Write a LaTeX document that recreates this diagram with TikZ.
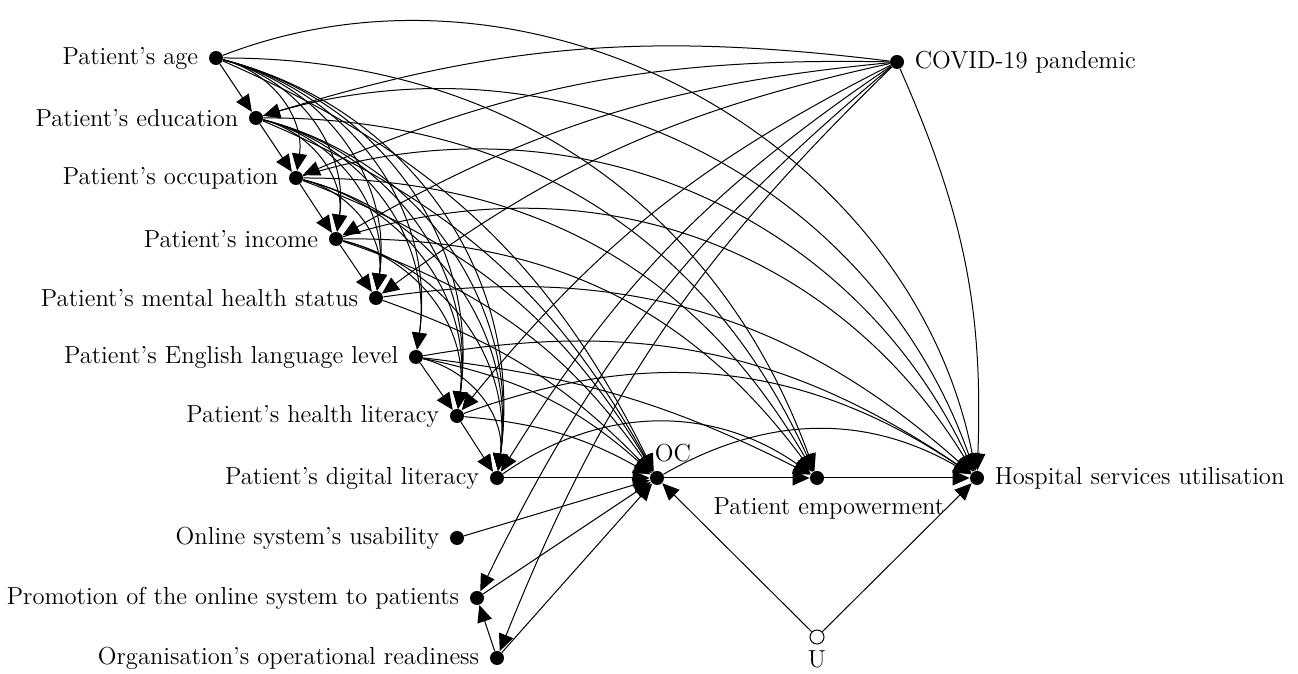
\documentclass[tikz,border=0pt]{standalone}
\usetikzlibrary{arrows.meta}
\begin{document}
\begin{tikzpicture}[x=0.5pt,y=0.5pt,
  dot/.style={circle,fill=black,inner sep=0pt,minimum size=7pt},
  hollow/.style={circle,draw=black,fill=white,line width=0.5pt,inner sep=0pt,minimum size=7pt},
  arr/.style={-{Triangle[length=8.5pt,width=7.5pt]},line width=0.5pt},
  lbl/.style={inner sep=0pt,font=\fontsize{12.3}{14}\selectfont},
  every label/.style={lbl},
  label distance=5pt]
\useasboundingbox (0,0) rectangle (1298,674);
% nodes
\node[dot,label={[name=ageL]left:Patient's age}] (age) at (216,616) {};
\node[dot,label={[name=eduL]left:Patient's education}] (edu) at (256,556) {};
\node[dot,label={[name=occL]left:Patient's occupation}] (occ) at (296,496) {};
\node[dot,label={[name=incL]left:Patient's income}] (inc) at (336,435) {};
\node[dot,label={[name=menL]left:Patient's mental health status}] (men) at (376,376) {};
\node[dot,label={[name=engL]left:Patient's English language level}] (eng) at (416,317) {};
\node[dot,label={[name=hlL]left:Patient's health literacy}] (hl) at (457,258) {};
\node[dot,label={[name=dlL]left:Patient's digital literacy}] (dl) at (497,196) {};
\node[dot,label={[name=usL]left:Online system's usability}] (us) at (457,136) {};
\node[dot,label={[name=prL]left:Promotion of the online system to patients}] (pr) at (477,76) {};
\node[dot,label={[name=rdL]left:Organisation's operational readiness}] (rd) at (497,16) {};
\node[dot,label={[name=ocL,label distance=4pt,xshift=8pt]above:OC}] (oc) at (657,196) {};
\node[dot,label={[name=emL,label distance=6pt,xshift=6pt]below:Patient empowerment}] (em) at (817,196) {};
\node[dot,label={[name=hoL]right:Hospital services utilisation}] (ho) at (977,196) {};
\node[dot,label={[name=cvL]right:COVID-19 pandemic}] (cv) at (897,612) {};
\node[hollow,label={[name=uL,label distance=3pt]below:U}] (u) at (817,37) {};
% straight edges
\draw[arr] (age) -- (edu);
\draw[arr] (edu) -- (occ);
\draw[arr] (occ) -- (inc);
\draw[arr] (inc) -- (men);
\draw[arr] (eng) -- (hl);
\draw[arr] (hl) -- (dl);
\draw[arr] (dl) -- (oc);
\draw[arr] (oc) -- (em);
\draw[arr] (em) -- (ho);
\draw[arr] (us) -- (oc);
\draw[arr] (pr) -- (oc);
\draw[arr] (rd) -- (oc);
\draw[arr] (rd) -- (pr);
\draw[arr] (u) -- (oc);
\draw[arr] (u) -- (ho);
% left column curved edges
\foreach \a/\b in {age/occ,age/inc,age/men,age/eng,age/hl,age/dl,
                   edu/inc,edu/men,edu/eng,edu/hl,edu/dl,
                   occ/men,occ/hl,occ/dl,
                   inc/hl,inc/dl,eng/dl}
  \draw[arr] (\a) to[bend left=42] (\b);
% to OC
\foreach \a/\t in {age/20,edu/19,occ/19,inc/18,men/13,eng/15,hl/12}
  \draw[arr] (\a) to[bend left=\t] (oc);
% to empowerment
\foreach \a/\t in {age/35,edu/33,occ/30,inc/27,eng/10,dl/35}
  \draw[arr] (\a) to[bend left=\t] (em);
% to hospital
\foreach \a/\t in {age/50,edu/44,occ/41,inc/38,men/25,eng/22,hl/27}
  \draw[arr] (\a) to[bend left=\t] (ho);
\draw[arr] (oc) to[bend left=30] (ho);
% COVID
\foreach \b in {edu,occ,inc,men,hl,dl,pr,rd}
  \draw[arr] (cv) to[bend right=12] (\b);
\draw[arr] (cv) to[bend left=13] (ho);
\end{tikzpicture}
\end{document}
